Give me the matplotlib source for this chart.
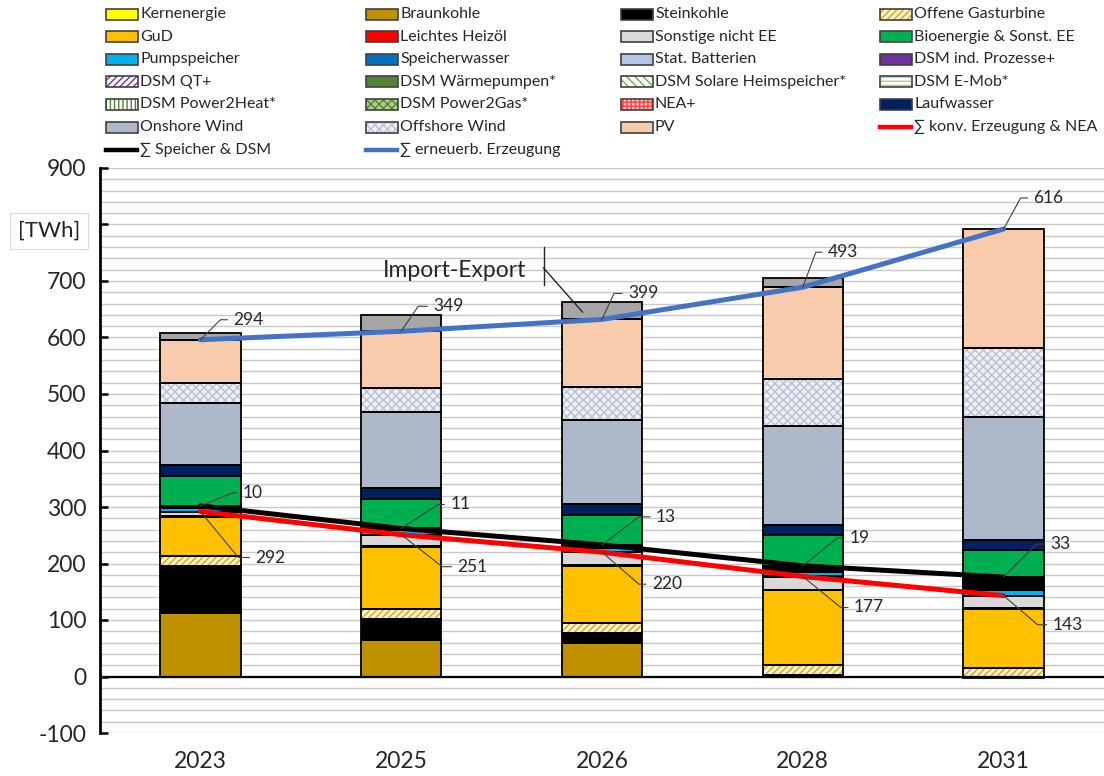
import numpy as np
import matplotlib
matplotlib.use('Agg')
import matplotlib.pyplot as plt
from matplotlib.patches import Rectangle
from matplotlib.lines import Line2D

plt.rcParams['font.family'] = ['Lato', 'DejaVu Sans']
plt.rcParams['hatch.linewidth'] = 1.0
plt.rcParams['axes.unicode_minus'] = False

# ---------------- data ----------------
years = ['2023', '2025', '2026', '2028', '2031']

kernenergie = [0, 0, 0, 0, 0]
braunkohle = [112, 65, 60, 2, 0]
steinkohle = [83, 36, 17, 1, 0]
offene_gt = [18, 18, 18, 18, 15]
gud = [70, 111, 101, 132, 105]
heizoel = [1, 0.5, 0.5, 0.5, 0.5]
sonstige = [7, 20, 23, 22, 22]
nea = [1, 0.5, 0.5, 1.5, 0.5]

pumpspeicher = [7, 8, 8, 8, 10]
speicherwasser = [1, 1, 1, 1, 1]
batterien = [1, 1, 2, 4, 5]
dsm_ind = [1, 1, 1, 2, 2]
dsm_qt = [0, 0, 0.5, 1, 1]
dsm_wp = [0, 0, 0.5, 1, 3]
dsm_solar = [0, 0, 0, 1, 3]
dsm_emob = [0, 0, 0, 1, 3]
dsm_p2h = [0, 0, 0, 0, 3]
dsm_p2g = [0, 0, 0, 0, 2]

bioenergie = [52, 53, 53, 55, 48]
laufwasser = [20, 19, 19, 17, 17]
onshore = [110, 135, 149, 175, 219]
offshore = [35, 41, 58, 84, 121]
pv = [77, 101, 120, 162, 211]
import_export = [12, 29, 30, 16, -3]

sum_konv = [292, 251, 220, 177, 143]
sum_speicher = [10, 11, 13, 19, 33]
sum_ee = [294, 349, 399, 493, 616]

# ---------------- styles ----------------
series = [
    ('Kernenergie', kernenergie, '#FFFF00', None, None),
    ('Braunkohle', braunkohle, '#BF9000', None, None),
    ('Steinkohle', steinkohle, '#000000', None, None),
    ('Offene Gasturbine', offene_gt, '#FFF2CC', '/////', '#D9A514'),
    ('GuD', gud, '#FFC000', None, None),
    ('Leichtes Heizöl', heizoel, '#FF0000', None, None),
    ('Sonstige nicht EE', sonstige, '#D9D9D9', None, None),
    ('NEA+', nea, '#FFC7C7', '++++', '#FF4040'),
    ('Pumpspeicher', pumpspeicher, '#00B0F0', None, None),
    ('Speicherwasser', speicherwasser, '#0070C0', None, None),
    ('Stat. Batterien', batterien, '#B4C7E7', None, None),
    ('DSM ind. Prozesse+', dsm_ind, '#7030A0', None, None),
    ('DSM QT+', dsm_qt, '#FFFFFF', '/////', '#7030A0'),
    ('DSM Wärmepumpen*', dsm_wp, '#548235', None, None),
    ('DSM Solare Heimspeicher*', dsm_solar, '#FFFFFF', '\\\\\\\\', '#70AD47'),
    ('DSM E-Mob*', dsm_emob, '#FFFFFF', '----', '#A9D18E'),
    ('DSM Power2Heat*', dsm_p2h, '#FFFFFF', '||||', '#548235'),
    ('DSM Power2Gas*', dsm_p2g, '#A9D18E', 'xxxx', '#548235'),
    ('Bioenergie & Sonst. EE', bioenergie, '#00B050', None, None),
    ('Laufwasser', laufwasser, '#002060', None, None),
    ('Onshore Wind', onshore, '#ADB9CA', None, None),
    ('Offshore Wind', offshore, '#EEF0F4', 'xxxx', '#B8C2D2'),
    ('PV', pv, '#F8CBAD', None, None),
    ('Import-Export', import_export, '#A6A6A6', None, None),
]
style = {s[0]: s for s in series}

legend_order = ['Kernenergie', 'Braunkohle', 'Steinkohle', 'Offene Gasturbine',
                'GuD', 'Leichtes Heizöl', 'Sonstige nicht EE', 'Bioenergie & Sonst. EE',
                'Pumpspeicher', 'Speicherwasser', 'Stat. Batterien', 'DSM ind. Prozesse+',
                'DSM QT+', 'DSM Wärmepumpen*', 'DSM Solare Heimspeicher*', 'DSM E-Mob*',
                'DSM Power2Heat*', 'DSM Power2Gas*', 'NEA+', 'Laufwasser',
                'Onshore Wind', 'Offshore Wind', 'PV', '∑ konv. Erzeugung & NEA',
                '∑ Speicher & DSM', '∑ erneuerb. Erzeugung']
line_styles = {'∑ konv. Erzeugung & NEA': '#FF0000',
               '∑ Speicher & DSM': '#000000',
               '∑ erneuerb. Erzeugung': '#4472C4'}

W, H = 1104, 776
fig = plt.figure(figsize=(W / 100, H / 100), dpi=100)
ax = fig.add_axes([100 / W, 43 / H, (W - 100) / W, 565 / H])

x = np.arange(len(years))
bw = 0.4
pos_bottom = np.zeros(len(years))
neg_bottom = np.zeros(len(years))
for name, vals, fc, hatch, hc in series:
    vals = np.asarray(vals, dtype=float)
    for i, v in enumerate(vals):
        if v == 0:
            continue
        b = pos_bottom[i] if v > 0 else neg_bottom[i]
        ax.bar(x[i], v, bottom=b, width=bw, color=fc, hatch=hatch,
               edgecolor=hc if hatch else fc, linewidth=0, zorder=2)
        ax.bar(x[i], v, bottom=b, width=bw, fill=False, edgecolor='black',
               linewidth=1.3, zorder=2.5)
        if v > 0:
            pos_bottom[i] += v
        else:
            neg_bottom[i] += v

red_y = np.array(sum_konv, dtype=float)
black_y = red_y + np.array(sum_speicher)
blue_y = black_y + np.array(sum_ee)
ax.plot(x, red_y, color='#FF0000', lw=3.6, zorder=4, solid_capstyle='round')
ax.plot(x, black_y, color='#000000', lw=3.6, zorder=3.9, solid_capstyle='round')
ax.plot(x, blue_y, color='#4472C4', lw=3.6, zorder=4, solid_capstyle='round')

ax.set_xlim(-0.5, 4.5)
ax.set_ylim(-100, 900)

ppc = (W - 100) / 5.0      # px per category
ppv = 565 / 1000.0         # px per value unit


def label(i, yv, val, dxe, dye, dxt):
    xe = x[i] + dxe / ppc
    ye = yv + dye / ppv
    xd = x[i] + (dxt - 6) / ppc
    ax.plot([x[i], xe, xd], [yv, ye, ye], color='#404040', lw=0.8, zorder=5)
    ax.text(x[i] + dxt / ppc, ye, str(val), fontsize=12.5, va='center',
            ha='left', color='#262626', zorder=6)


blue_off = [(20, 20, 33), (17, 25, 32), (12, 26, 26), (13, 35, 25), (17, 31, 30)]
black_off = [(32, 13, 42), (37, 24, 49), (37, 28, 54), (35, 28, 47), (33, 33, 47)]
red_off = [(38, -46, 55), (41, -32, 56), (37, -32, 50), (38, -31, 51), (34, -29, 49)]
for i in range(len(years)):
    label(i, blue_y[i], sum_ee[i], *blue_off[i])
    label(i, black_y[i], sum_speicher[i], *black_off[i])
    label(i, red_y[i], sum_konv[i], *red_off[i])

# Import-Export annotation
ax.text(1.266, 719, 'Import-Export', fontsize=16.5, ha='center', va='center',
        color='#262626', zorder=6)
ax.plot([1.709, 1.709], [693, 760], color='#262626', lw=1.0, zorder=6)
ax.plot([1.709, 1.903], [723, 645], color='#262626', lw=1.0, zorder=6)

# axes styling
yt = np.arange(-100, 901, 100)
ax.set_yticks(yt)
ax.set_yticklabels(['' if v == 800 else str(v) for v in yt])
ax.set_yticks(np.arange(-100, 901, 20), minor=True)
ax.grid(True, which='both', axis='y', color='#C8C8C8', lw=1.0, zorder=0)
ax.set_axisbelow(True)
ax.axhline(0, color='black', lw=1.6, zorder=3)
for s in ['top', 'right', 'bottom']:
    ax.spines[s].set_visible(False)
ax.spines['left'].set_linewidth(2.0)
ax.tick_params(axis='y', which='major', direction='in', length=6, width=1.8,
               labelsize=16.5, pad=10, labelcolor='#262626')
ax.tick_params(axis='y', which='minor', length=0)
ax.set_xticks(x)
ax.set_xticklabels(years)
ax.tick_params(axis='x', length=0, labelsize=16.5, pad=13, labelcolor='#262626')

fig.text(49 / W, 1 - 231 / H, '[TWh]', fontsize=16, ha='center', va='center',
         color='#262626',
         bbox=dict(boxstyle='square,pad=0.35', facecolor='white', edgecolor='#D9D9D9', lw=0.8))

# legend (manual grid)
lax = fig.add_axes([0, 0, 1, 1], zorder=10)
lax.set_xlim(0, W)
lax.set_ylim(H, 0)
lax.axis('off')
col_x = [106, 366, 621, 880]
row_y0, row_dy = 14, 22.6
for k, name in enumerate(legend_order):
    r, c = divmod(k, 4)
    cx = col_x[c]
    cy = row_y0 + r * row_dy
    if name in line_styles:
        lax.add_line(Line2D([cx, cx + 31], [cy, cy], color=line_styles[name], lw=3.2))
    else:
        _, _, fc, hatch, hc = style[name]
        lax.add_patch(Rectangle((cx, cy - 5.5), 32, 11, facecolor=fc, hatch=hatch,
                                edgecolor=hc if hatch else fc, lw=0))
        lax.add_patch(Rectangle((cx, cy - 5.5), 32, 11, fill=False,
                                edgecolor='#404040', lw=1.2))
    lax.text(cx + 34, cy, name, fontsize=11.5, va='center', ha='left', color='#262626')

fig.savefig('out.png', dpi=100)
